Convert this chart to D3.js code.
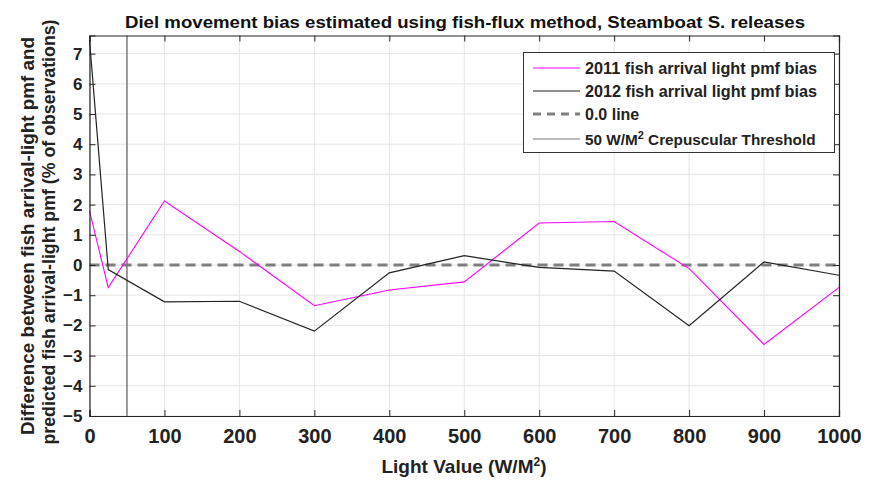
<!DOCTYPE html>
<html><head><meta charset="utf-8">
<script src="https://cdn.jsdelivr.net/npm/d3@7"></script>
<style>
body{margin:0;background:#fff;}
text{font-family:"Liberation Sans",Arial,sans-serif;}
</style></head>
<body><svg id="c" width="884" height="483"></svg>
<script>
const xValues = [0, 25, 100, 200, 300, 400, 500, 600, 700, 800, 900, 1000];
const bias2011 = [1.79, -0.75, 2.12, 0.45, -1.35, -0.83, -0.56, 1.39, 1.44, -0.12, -2.63, -0.74];
const bias2012 = [7.45, -0.15, -1.22, -1.2, -2.19, -0.26, 0.31, -0.08, -0.2, -2.01, 0.1, -0.34];
const xTicks = [0,100,200,300,400,500,600,700,800,900,1000];
const yTicks = [-5,-4,-3,-2,-1,0,1,2,3,4,5,6,7];
const threshold = 50;
const zeroLine = 0;
const legendLabels = ["2011 fish arrival light pmf bias","2012 fish arrival light pmf bias","0.0 line","Crepuscular Threshold"];

const svg = d3.select("#c");
const L=89.5, R=839, T=35.5, B=416;
const x = d3.scaleLinear().domain([0,1000]).range([L,R]);
const y = d3.scaleLinear().domain([-5,7.6]).range([B,T]);

// grid
const g = svg.append("g");
g.selectAll(".gx").data(xTicks).enter().append("line")
 .attr("x1",d=>x(d)).attr("x2",d=>x(d)).attr("y1",T).attr("y2",B)
 .attr("stroke","#e6e6e6").attr("stroke-width",1);
g.selectAll(".gy").data(yTicks).enter().append("line")
 .attr("x1",L).attr("x2",R).attr("y1",d=>y(d)).attr("y2",d=>y(d))
 .attr("stroke","#e6e6e6").attr("stroke-width",1);

// zero line
svg.append("line").attr("x1",L).attr("x2",R).attr("y1",y(zeroLine)).attr("y2",y(zeroLine))
 .attr("stroke","#7f7f7f").attr("stroke-width",3).attr("stroke-dasharray","10,6");
// threshold
svg.append("line").attr("x1",x(threshold)).attr("x2",x(threshold)).attr("y1",T).attr("y2",B)
 .attr("stroke","#7a7a7a").attr("stroke-width",1.5);

const line = d3.line().x(d=>x(d[0])).y(d=>y(d[1]));
svg.append("path").datum(xValues.map((v,i)=>[v,bias2011[i]]))
 .attr("d",line).attr("fill","none").attr("stroke","#ff00ff").attr("stroke-width",1.1);
svg.append("path").datum(xValues.map((v,i)=>[v,bias2012[i]]))
 .attr("d",line).attr("fill","none").attr("stroke","#222").attr("stroke-width",1.2);

// axes
const ax = svg.append("g").attr("transform",`translate(0,${B})`)
 .call(d3.axisBottom(x).tickValues(xTicks).tickSize(-6).tickPadding(13).tickFormat(d3.format("d")));
ax.selectAll("text").style("font-family","'Liberation Sans Narrow','Liberation Sans',sans-serif").style("font-size","20px").style("font-weight","bold").attr("fill","#222");
const axT = svg.append("g").attr("transform",`translate(0,${T})`)
 .call(d3.axisTop(x).tickValues(xTicks).tickSize(-6).tickFormat(""));
const ay = svg.append("g").attr("transform",`translate(${L},0)`)
 .call(d3.axisLeft(y).tickValues(yTicks).tickSize(-6).tickPadding(7));
ay.selectAll("text").style("font-size","17px").style("font-weight","bold").attr("fill","#222");
const ayR = svg.append("g").attr("transform",`translate(${R},0)`)
 .call(d3.axisRight(y).tickValues(yTicks).tickSize(-6).tickFormat(""));
[ax,axT,ay,ayR].forEach(a=>{a.select(".domain").attr("stroke","#262626").attr("stroke-width",1.2);a.selectAll(".tick line").attr("stroke","#262626");});

// title
svg.append("text").attr("x",465).attr("y",28).attr("text-anchor","middle")
 .style("font-size","17px").style("font-weight","bold").attr("fill","#111")
 .attr("textLength",680).attr("lengthAdjust","spacingAndGlyphs")
 .text("Diel movement bias estimated using fish-flux method, Steamboat S. releases");
// x label
const xl = svg.append("text").attr("x",464).attr("y",473).attr("text-anchor","middle")
 .style("font-family","'Liberation Sans Narrow','Liberation Sans',sans-serif")
 .style("font-size","19px").style("font-weight","bold").attr("fill","#222");
xl.append("tspan").text("Light Value (W/M");
xl.append("tspan").attr("dy",-7).style("font-size","12px").text("2");
xl.append("tspan").attr("dy",7).text(")");
// y label
const yl = svg.append("text").attr("transform",`translate(0,232) rotate(-90)`)
 .attr("text-anchor","middle").style("font-size","18px").style("font-weight","bold").attr("fill","#222");
yl.append("tspan").attr("x",-4).attr("y",34).attr("textLength",398).attr("lengthAdjust","spacingAndGlyphs").text("Difference between fish arrival-light pmf and");
yl.append("tspan").attr("x",0).attr("y",55).attr("textLength",425).attr("lengthAdjust","spacingAndGlyphs").text("predicted fish arrival-light pmf (% of observations)");

// legend
const lg = svg.append("g");
lg.append("rect").attr("x",523.5).attr("y",52.5).attr("width",311).attr("height",100)
 .attr("fill","#fff").attr("stroke","#333").attr("stroke-width",1);
const rows = [
 {y:68, stroke:"#ff00ff", w:1.2, dash:null, len:232, fs:16},
 {y:91, stroke:"#222", w:1.2, dash:null, len:232, fs:16},
 {y:114, stroke:"#7f7f7f", w:3, dash:"8,6", len:null, fs:16},
 {y:139, stroke:"#7a7a7a", w:1.2, dash:null, len:null, fs:15.3}
];
rows.forEach((r,i)=>{
 lg.append("line").attr("x1",533).attr("x2",580).attr("y1",r.y).attr("y2",r.y)
  .attr("stroke",r.stroke).attr("stroke-width",r.w).attr("stroke-dasharray",r.dash);
 const t = lg.append("text").attr("x",585).attr("y",r.y+6).style("font-size",r.fs+"px").style("font-weight","bold").attr("fill","#222");
 if(r.len) t.attr("textLength",r.len).attr("lengthAdjust","spacingAndGlyphs");
 if(i===3){
  t.append("tspan").text(threshold+" W/M");
  t.append("tspan").attr("dy",-6).style("font-size","11px").text("2");
  t.append("tspan").attr("dy",6).text(" "+legendLabels[3]);
 } else t.text(legendLabels[i]);
});
</script></body></html>
